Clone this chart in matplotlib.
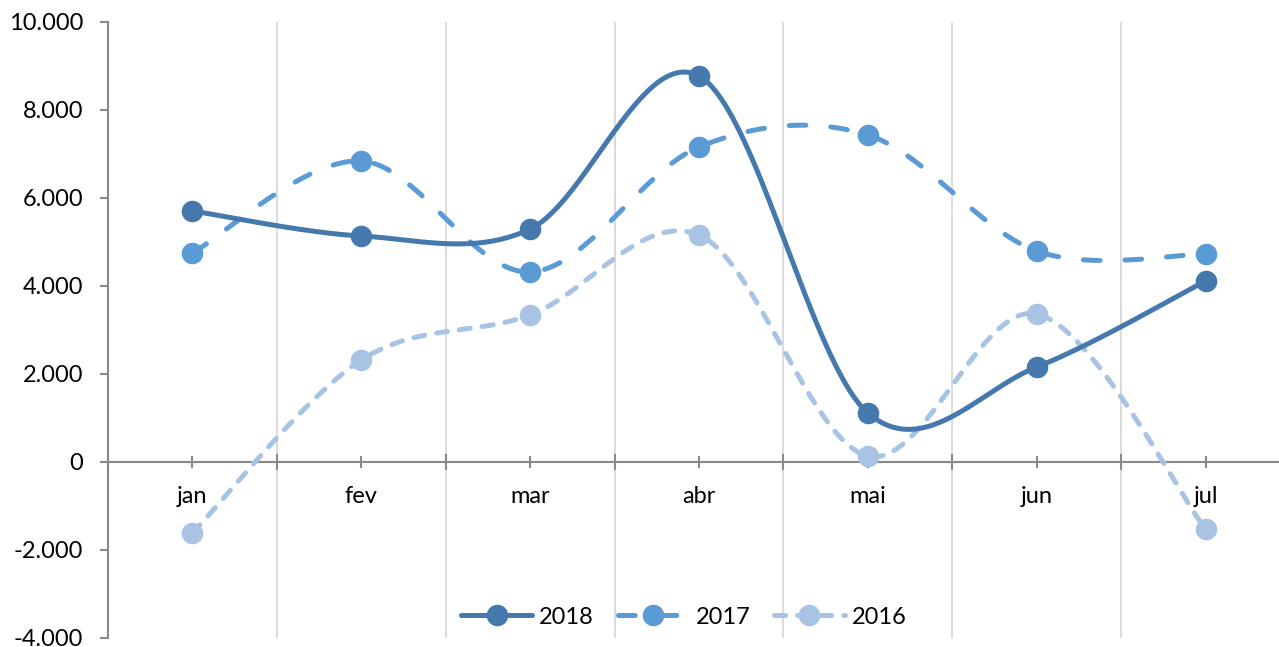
import numpy as np
import matplotlib
matplotlib.use("Agg")
import matplotlib.pyplot as plt
from matplotlib.ticker import FuncFormatter, FixedLocator
from matplotlib.lines import Line2D

plt.rcParams['font.family'] = ['Lato', 'DejaVu Sans']
plt.rcParams['lines.scale_dashes'] = False

meses = ['jan', 'fev', 'mar', 'abr', 'mai', 'jun', 'jul']
v2018 = [5705, 5136, 5295, 8773, 1114, 2159, 4114]
v2017 = [4750, 6841, 4318, 7159, 7432, 4795, 4727]
v2016 = [-1614, 2318, 3341, 5159, 136, 3364, -1523]

series = [
    ('2018', v2018, '#4579AD', None),
    ('2017', v2017, '#5B9BD5', (0, (12, 18))),
    ('2016', v2016, '#A9C3E4', (0, (8, 8.6))),
]

W, H = 1279, 647
fig = plt.figure(figsize=(W / 100, H / 100), dpi=100)
ax = fig.add_axes([108 / W, 9 / H, (1290 - 108) / W, (638 - 22) / H])

ymin, ymax = -4000, 10000
ax.set_xlim(-0.5, len(meses) - 0.5)
ax.set_ylim(ymin, ymax)

# pixel scale of the axes, used to smooth the curves in screen space like Excel
sx = (1290 - 108) / len(meses)
sy = (638 - 22) / (ymax - ymin)


def smooth(xs, ys, n=60):
    px = np.array(xs, float) * sx
    py = np.array(ys, float) * sy
    P = np.column_stack([px, py])
    out = []
    for i in range(len(P) - 1):
        p0 = P[i - 1] if i > 0 else P[i]
        p1, p2 = P[i], P[i + 1]
        p3 = P[i + 2] if i + 2 < len(P) else P[i + 1]
        c1 = p1 + (p2 - p0) / 6
        c2 = p2 - (p3 - p1) / 6
        t = np.linspace(0, 1, n)[:, None]
        seg = ((1 - t) ** 3 * p1 + 3 * (1 - t) ** 2 * t * c1
               + 3 * (1 - t) * t ** 2 * c2 + t ** 3 * p2)
        out.append(seg if i == 0 else seg[1:])
    out = np.vstack(out)
    return out[:, 0] / sx, out[:, 1] / sy


x = np.arange(len(meses))
for nome, vals, cor, ls in series[::-1]:
    cx, cy = smooth(x, vals)
    ax.plot(cx, cy, color=cor, lw=3.6, solid_capstyle='round',
            dash_capstyle='round', linestyle=ls if ls else '-', zorder=3)
    ax.plot(x, vals, 'o', color=cor, ms=14.5, zorder=4)

# legend handles with markers
leg_handles = []
for nome, vals, cor, ls in series:
    leg_handles.append(Line2D([], [], color=cor, lw=3.6, marker='o', ms=14.5,
                              linestyle=ls if ls else '-',
                              dash_capstyle='round', solid_capstyle='round'))
fig.legend(leg_handles, [s[0] for s in series], loc='center',
           bbox_to_anchor=(684 / W, 1 - 617 / H), ncol=3, frameon=False,
           fontsize=17, handlelength=3.0, handletextpad=0.3, columnspacing=1.0)

# axes styling
axis_col = '#898989'
for s in ['top', 'right']:
    ax.spines[s].set_visible(False)
ax.spines['left'].set_color(axis_col)
ax.spines['left'].set_linewidth(1.5)
ax.spines['bottom'].set_position(('data', 0))
ax.spines['bottom'].set_color(axis_col)
ax.spines['bottom'].set_linewidth(1.5)

ax.set_yticks(np.arange(ymin, ymax + 1, 2000))
ax.yaxis.set_major_formatter(FuncFormatter(lambda v, p: f"{int(v):,}".replace(',', '.')))
ax.tick_params(axis='y', direction='out', length=6, width=1.5, color=axis_col,
               labelsize=17, pad=12)

ax.set_xticks(x)
ax.set_xticklabels(meses)
ax.xaxis.set_minor_locator(FixedLocator(np.arange(-0.5, len(meses), 1.0)))
ax.tick_params(axis='x', which='major', direction='inout', length=9, width=1.5,
               color=axis_col, labelsize=17, pad=13)
ax.tick_params(axis='x', which='minor', direction='inout', length=11, width=1.5,
               color=axis_col)
ax.grid(which='minor', axis='x', color='#D9D9D9', lw=1.3, zorder=0)
ax.set_axisbelow(True)

fig.savefig('out.png', dpi=100)
